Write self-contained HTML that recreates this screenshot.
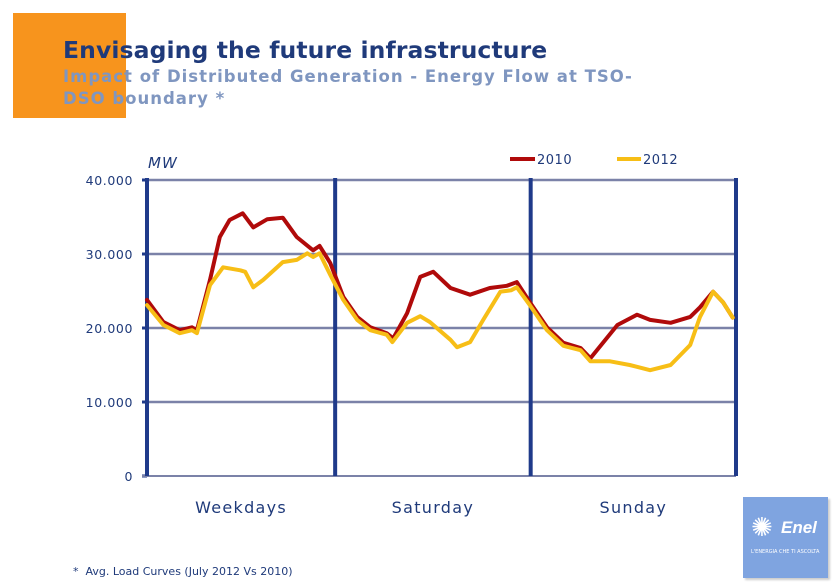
<!DOCTYPE html>
<html><head><meta charset="utf-8"><style>
body{margin:0;width:840px;height:588px;background:#fff;overflow:hidden;position:relative;font-family:"DejaVu Sans","Liberation Sans",sans-serif}
.abs{position:absolute}
</style></head><body>
<div class="abs" style="left:13px;top:13px;width:113px;height:105px;background:#f7941d"></div>
<div class="abs" style="left:63px;top:36px;font-size:23.5px;letter-spacing:0.1px;font-weight:bold;color:#1f3a7a;white-space:nowrap">Envisaging the future infrastructure</div>
<div class="abs" style="left:63px;top:66px;font-size:16.5px;letter-spacing:1px;font-weight:bold;color:#7f96c0;line-height:22px;width:640px">Impact of Distributed Generation - Energy Flow at TSO-<br>DSO boundary *</div>
<svg class="abs" style="left:0;top:0" width="840" height="588">
<g id="grid"></g><g id="lines"></g><g id="labels"></g>
<text x="148" y="168" font-size="15" font-style="italic" letter-spacing="1" fill="#1f3a7a" font-family="DejaVu Sans">MW</text>
<line x1="510" y1="159" x2="535" y2="159" stroke="#b00a0a" stroke-width="4"/>
<text x="537" y="164" font-size="13" letter-spacing="0.5" fill="#1f3a7a">2010</text>
<line x1="617" y1="159" x2="641" y2="159" stroke="#f7be16" stroke-width="4"/>
<text x="643" y="164" font-size="13" letter-spacing="0.5" fill="#1f3a7a">2012</text>
</svg>
<div class="abs" style="left:73px;top:565px;font-size:11px;color:#1f3a7a">*&nbsp; Avg. Load Curves (July 2012 Vs 2010)</div>
<div class="abs" style="left:743px;top:497px;width:85px;height:81px;background:#7fa4e0;box-shadow:2px 2px 2px #ccc">
<div style="position:absolute;left:8px;top:16px;color:#fff;font-size:26px">✺</div>
<div style="position:absolute;left:38px;top:21px;color:#fff;font-size:17px;font-style:italic;font-weight:bold;font-family:'Liberation Sans'">Enel</div>
<div style="position:absolute;left:8px;top:52px;color:#fff;font-size:5px;white-space:nowrap">L'ENERGIA CHE TI ASCOLTA</div>
</div>
<script>
const yTicks=[0,10000,20000,30000,40000];
const yTickLabels=["0","10.000","20.000","30.000","40.000"];
const categories=["Weekdays","Saturday","Sunday"];
const dayBounds=[0,23,46.9,72];
const hours2010=[0,2.0,4.0,5.5,6.1,7.7,8.9,10.1,11.7,13.0,14.7,16.6,18.3,20.3,21.1,22.4,24.0,25.7,27.3,29.3,30.1,31.8,33.4,35.0,37.1,39.5,41.9,44.0,45.2,46.8,48.9,50.9,53.0,54.2,57.5,59.9,61.5,64.0,66.4,67.6,69.2,70.4,71.6];
const values2010=[23.8,20.8,19.7,20.1,19.7,26.5,32.3,34.6,35.5,33.6,34.7,34.9,32.3,30.5,31.1,28.8,24.2,21.5,20.1,19.3,18.6,22.0,26.9,27.6,25.4,24.5,25.4,25.7,26.2,23.5,20.1,18.0,17.3,15.9,20.4,21.8,21.1,20.7,21.5,22.8,24.9,23.5,21.4];
const hours2012=[0,2.0,4.0,5.5,6.1,7.7,9.3,11.4,12.0,13.0,14.2,16.6,18.3,19.6,20.3,21.1,22.4,24.0,25.7,27.3,29.3,30.0,31.8,33.4,34.6,37.1,37.9,39.5,41.1,43.2,44.5,45.2,46.8,48.9,50.9,53.0,54.2,56.6,59.0,61.5,64.0,66.4,67.6,69.2,70.4,71.6];
const values2012=[23.1,20.4,19.3,19.7,19.3,25.8,28.2,27.8,27.6,25.5,26.5,28.9,29.2,30.1,29.6,30.1,27.2,23.8,21.1,19.7,19.1,18.1,20.7,21.6,20.8,18.4,17.4,18.1,21.1,24.9,25.1,25.5,23.1,19.7,17.6,17.0,15.5,15.5,15.0,14.3,15.0,17.7,21.5,24.9,23.5,21.4];
const NS="http://www.w3.org/2000/svg";
const x0=147,x1=736,yTop=180,yBot=476,yMax=40000;
const xs=h=>x0+h*(x1-x0)/72;
const ys=v=>yBot-v*(yBot-yTop)/yMax;
function mk(tag,attrs,parent){const e=document.createElementNS(NS,tag);for(const k in attrs)e.setAttribute(k,attrs[k]);parent.appendChild(e);return e;}
const grid=document.getElementById('grid'),lines=document.getElementById('lines'),labels=document.getElementById('labels');
yTicks.forEach((t,i)=>{
 if(t>0){const g=mk('line',{x1:x0,x2:x1,y1:ys(t),y2:ys(t),stroke:'#7b82a8','stroke-width':2.5},grid);
 
 }
 const tk=mk('line',{x1:x0-5,x2:x0,y1:ys(t),y2:ys(t),stroke:'#1f3a8a','stroke-width':3},grid);
 
 
 const tl=mk('text',{x:133,y:ys(t)+5,'text-anchor':'end','font-size':12.5,'letter-spacing':0.6,fill:'#1f3a7a'},labels);
 tl.textContent=yTickLabels[i];
 
 
});
const bx=mk('line',{x1:x0-5,x2:x1,y1:yBot,y2:yBot,stroke:'#7b82a8','stroke-width':2},grid);


dayBounds.forEach(d=>{
 const v=mk('line',{x1:xs(d),x2:xs(d),y1:yTop-2,y2:yBot,stroke:'#1f3a8a','stroke-width':4},grid);
 
 
});
categories.forEach((c,i)=>{
 const t=mk('text',{x:xs((dayBounds[i]+dayBounds[i+1])/2),y:513,'text-anchor':'middle','font-size':16,'letter-spacing':1.3,fill:'#1f3a7a'},labels);
 t.textContent=c;
 
 
});
function series(h,v,color,name){
 const pts=h.map((hh,i)=>xs(hh).toFixed(1)+','+ys(v[i]*1000).toFixed(1)).join(' ');
 const p=mk('polyline',{points:pts,fill:'none',stroke:color,'stroke-width':4,'stroke-linejoin':'round','stroke-linecap':'round'},lines);
 
 
}
series(hours2010,values2010,'#b00a0a','line-2010');
series(hours2012,values2012,'#f7be16','line-2012');
</script>
</body></html>
